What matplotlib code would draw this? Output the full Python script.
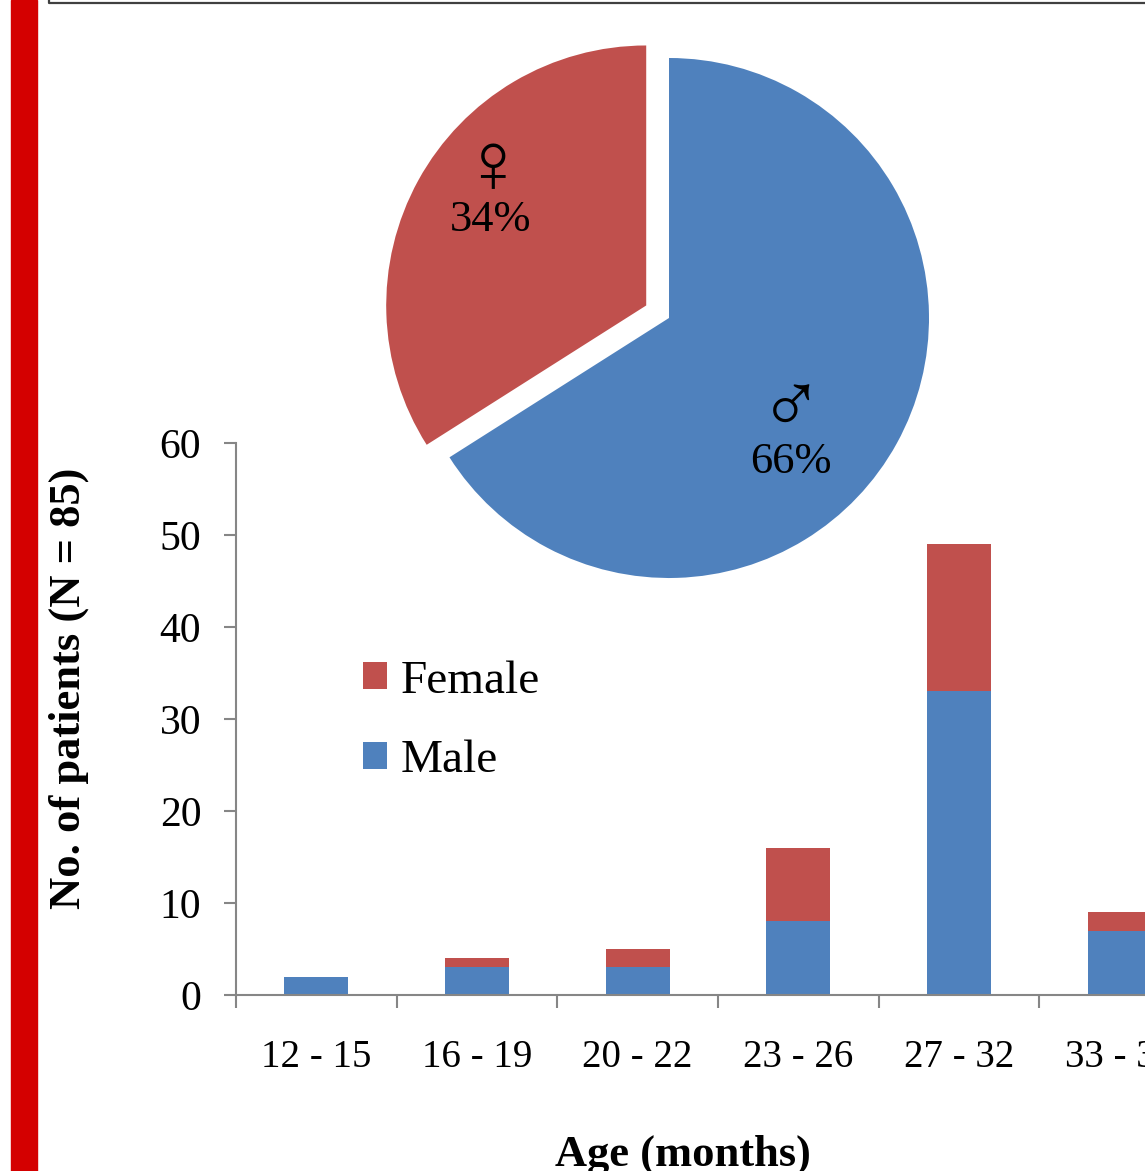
"""Stacked bars of patients by age group, with a sex-split pie inset."""

import matplotlib

matplotlib.use("Agg")
import matplotlib.pyplot as plt
from matplotlib.lines import Line2D
from matplotlib.patches import Rectangle
import numpy as np

plt.rcParams["font.family"] = ["Liberation Serif", "DejaVu Serif"]

age_groups = ["12 - 15", "16 - 19", "20 - 22", "23 - 26", "27 - 32", "33 - 36"]
male_counts = [2, 3, 3, 8, 33, 7]
female_counts = [0, 1, 2, 8, 16, 2]

sex_labels = ["\u2642", "\u2640"]
sex_shares = [66, 34]

BLUE = "#4F81BD"
RED = "#C0504D"
AXIS_GREY = "#868686"

W, H = 1145, 1171
fig = plt.figure(figsize=(W / 100, H / 100), dpi=100)


def px_box(left, top, width, height):
    """Pixel box (from top-left) -> figure fraction rect."""
    return [left / W, 1 - (top + height) / H, width / W, height / H]


# decorative red strip and frame corner from the source page
fig.patches.append(Rectangle((11 / W, 0), 26 / W, 1, transform=fig.transFigure,
                             color="#D40000", zorder=0))
fig.lines.append(Line2D([49 / W, 49 / W, 1], [1, 1 - 3 / H, 1 - 3 / H],
                        transform=fig.transFigure, color="#404040", lw=1.6))

# ---- bar chart ----
ax = fig.add_axes(px_box(236, 443, 964, 552))
x = np.arange(len(age_groups))
bm = ax.bar(x, male_counts, width=0.4, color=BLUE, label="Male")
bf = ax.bar(x, female_counts, width=0.4, bottom=male_counts, color=RED, label="Female")

ax.set_xlim(-0.5, len(age_groups) - 0.5)
ax.set_ylim(0, 60)
ax.set_yticks(range(0, 61, 10))
ax.set_xticks(x)
ax.set_xticklabels(age_groups)
ax.set_xticks(np.arange(-0.5, len(age_groups)), minor=True)
for side in ("top", "right"):
    ax.spines[side].set_visible(False)
for side in ("left", "bottom"):
    ax.spines[side].set_color(AXIS_GREY)
    ax.spines[side].set_linewidth(1.5)
ax.tick_params(axis="y", direction="out", length=9, width=1.5, color=AXIS_GREY,
               labelsize=30, pad=16)
ax.tick_params(axis="x", which="major", length=0, labelsize=28, pad=32)
ax.tick_params(axis="x", which="minor", direction="out", length=9, width=1.5,
               color=AXIS_GREY)
ax.set_ylabel("No. of patients (N = 85)", fontsize=32, fontweight="bold")
ax.yaxis.set_label_coords(-0.152, 0.556)

ax.legend(handles=[bf, bm], labels=["Female", "Male"], frameon=False, fontsize=34,
          loc="upper left", bbox_to_anchor=((363 - 33 - 236) / 964, (995 - 627) / 552),
          handlelength=0.5, handleheight=0.5, handletextpad=0.3, labelspacing=0.78,
          borderpad=0.2)

fig.text(683 / W, 5 / H, "Age (months)", fontsize=32, fontweight="bold",
         ha="center", va="baseline")

# ---- pie inset ----
pax = fig.add_axes(px_box(669 - 338, 318 - 338, 676, 676))
pax.pie(sex_shares, colors=[BLUE, RED], startangle=90, counterclock=False,
        explode=[0, 0.1], radius=1)
pax.set_xlim(-1.3, 1.3)
pax.set_ylim(-1.3, 1.3)
pax.set_aspect("equal")
pax.axis("off")

pax.text(0.47, -0.36, sex_labels[0], fontsize=62, ha="center", va="center")
pax.text(0.47, -0.554, f"{sex_shares[0]}%", fontsize=32, ha="center", va="center")
pax.text(-0.68, 0.565, sex_labels[1], fontsize=62, ha="center", va="center")
pax.text(-0.685, 0.377, f"{sex_shares[1]}%", fontsize=32, ha="center", va="center")

fig.savefig("out.png", dpi=100)
plt.close(fig)
